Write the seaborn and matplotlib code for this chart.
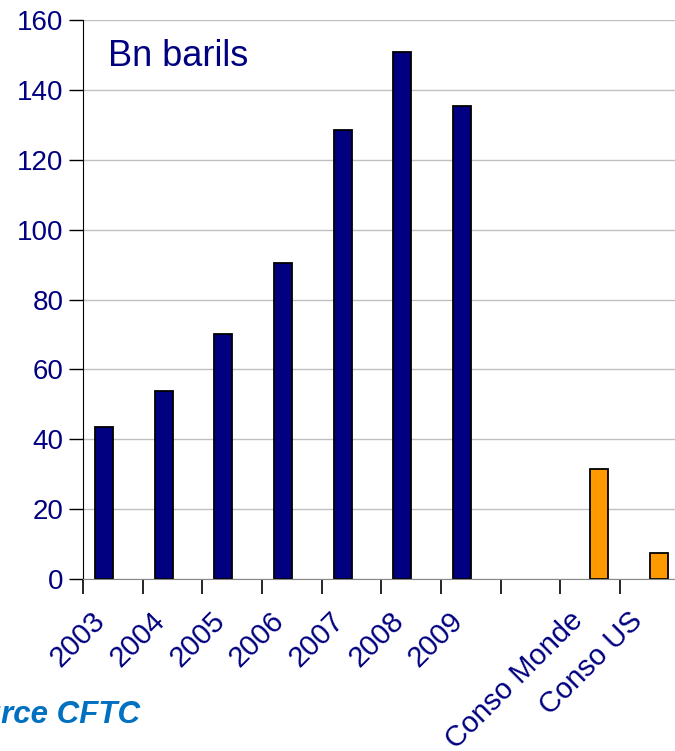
import pandas as pd
import numpy as np
import matplotlib.pyplot as plt
import matplotlib.transforms as mtransforms
import seaborn as sns

# valeurs (Bn barils)
years = ["2003", "2004", "2005", "2006", "2007", "2008", "2009"]
positions = [43.5, 53.8, 70.1, 90.4, 128.5, 150.8, 135.4]
conso_labels = ["Conso Monde", "Conso US"]
conso = [31.5, 7.4]
order = years + [" "] + conso_labels

df = pd.DataFrame({
    "cat": years + conso_labels,
    "serie": ["Positions"] * len(years) + ["Conso"] * len(conso_labels),
    "val": positions + conso,
})

sns.set_style("white")
plt.rcParams["font.family"] = ["Liberation Sans", "DejaVu Sans"]
navy = "#000080"

fig = plt.figure(figsize=(6.75, 7.51), dpi=100)
ax = fig.add_axes([83 / 675, (751 - 579) / 751, 1 - 83 / 675, (579 - 20) / 751])

sns.barplot(data=df, x="cat", y="val", hue="serie", order=order,
            hue_order=["Positions", "Conso"],
            palette={"Positions": navy, "Conso": "#FF9900"}, saturation=1,
            dodge=True, width=0.6, edgecolor="black", linewidth=1.3,
            legend=False, ax=ax)

ax.set_ylim(0, 160)
ax.set_xlim(-0.5, -0.5 + (675 - 83) / 59.67)
ax.set_yticks(np.arange(0, 161, 20))
ax.yaxis.grid(True, color="#c0c0c0", linewidth=1)
ax.set_axisbelow(True)
ax.set_xlabel("")
ax.set_ylabel("")

for s in ["top", "right"]:
    ax.spines[s].set_visible(False)
ax.spines["left"].set_color("black")
ax.spines["bottom"].set_color("#888888")

ax.tick_params(axis="y", left=True, length=10, width=1, color="black",
               labelsize=20, labelcolor=navy, pad=4)
ax.set_xticks(np.arange(len(order)) - 0.5, minor=True)
ax.tick_params(axis="x", which="minor", bottom=True, length=11, width=1.2, color="black")
ax.tick_params(axis="x", which="major", bottom=False, length=0, labelsize=21,
               labelcolor=navy, pad=27)
ax.set_xticks(range(len(order)))
ax.set_xticklabels(order)
offset = mtransforms.ScaledTranslation(-0.12, 0, fig.dpi_scale_trans)
for lab in ax.get_xticklabels():
    lab.set_rotation(45)
    lab.set_ha("right")
    lab.set_va("center")
    lab.set_rotation_mode("anchor")
    lab.set_transform(lab.get_transform() + offset)

ax.text(0.043, 0.935, "Bn barils", transform=ax.transAxes, fontsize=26,
        color=navy, va="center", ha="left")

fig.text(140 / 675, 1 - 715 / 751, "Source CFTC", ha="right", va="center",
         fontsize=22.5, fontweight="bold", fontstyle="italic", color="#0070C0")

fig.savefig("out.png", dpi=100)
